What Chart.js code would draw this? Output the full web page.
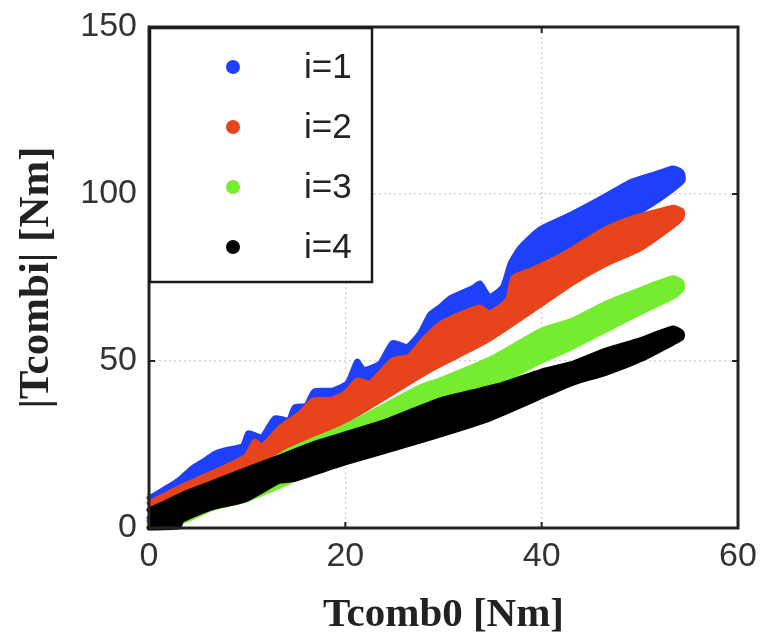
<!DOCTYPE html>
<html>
<head>
<meta charset="utf-8">
<script src="https://cdn.jsdelivr.net/npm/chart.js@4.4.1/dist/chart.umd.min.js"></script>
<style>
  html, body { margin: 0; padding: 0; background: #ffffff; }
  #wrap { width: 760px; height: 643px; }
</style>
</head>
<body>
<div id="wrap"><canvas id="c" width="760" height="643"></canvas></div>
<script>
// Combined torque |Tcombi| against base torque Tcomb0, four index values.
const seriesLabels = ['i=1', 'i=2', 'i=3', 'i=4'];
const seriesColors = ['#1f40fb', '#e8441c', '#76ec30', '#000000'];
const xTicks = [0, 20, 40, 60];
const yTicks = [0, 50, 100, 150];

// Upper and lower edges of each measured point cloud, [Tcomb0, |Tcombi|] in Nm
const i1Upper = [[0,9.0],[1.6,11.8],[3,14.4],[4.4,18.0],[5.7,20.4],[6.7,22.4],[7.7,23.4],[9.5,24.6],
  [10.1,28.5],[11.5,27.4],[12.8,33.0],[14.2,32.4],[14.8,36.2],[16,36.8],[16.8,41.0],[18.7,41.3],
  [20.2,43.5],[21.2,50.0],[21.9,47.5],[23.5,49.4],[24.8,55.5],[26.3,54.4],[27.6,58.5],[28.6,64.0],
  [29.6,66.2],[30.7,69.0],[33,72.0],[33.7,73.4],[34.7,69.5],[36,72.2],[36.8,79.3],[37.8,84.0],
  [39.8,89.5],[42.6,93.4],[45.9,98.5],[49,103.6],[51.5,106.0],[53.4,107.8],[54.3,106.5]];
const i1Lower = [[0,3.0],[20,38.0],[40,76.0],[48,91.0],[51.3,97.0],[53,100.5],[54.4,104.0]];

const i2Upper = [[0,7.5],[3,12.0],[6.4,16.5],[9.8,21.3],[10.8,26.0],[11.5,24.5],[13.3,30.0],
  [15.4,34.4],[16.7,38.3],[18.5,38.5],[20,40.5],[21.2,44.3],[22.5,43.5],[24.8,50.3],[26.5,51.5],
  [27.9,56.3],[29.6,61.0],[32,64.4],[33.7,66.2],[34.7,64.4],[36.5,68.3],[37.1,75.0],[39.1,77.5],
  [42.6,82.6],[45.9,88.6],[48,91.5],[50,93.5],[52,95.0],[53.4,96.0],[54.3,95.0]];
const i2Lower = [[0,2.0],[13.3,22.5],[20,32.0],[27.6,45.5],[29.6,48.8],[34.4,56.0],[40,67.0],
  [43.2,73.4],[46.6,79.0],[50,83.5],[53.4,90.5],[54.3,93.0]];

const i3Upper = [[0,1.0],[9.5,15.3],[14.4,23.4],[20,30.5],[27.6,42.2],[29.6,44.3],[35,51.0],
  [40,59.3],[43.2,62.3],[46.6,67.4],[50,71.3],[53.4,74.9],[54.3,73.5]];
const i3Lower = [[0,0],[3.7,2.3],[6.4,5.8],[9.8,8.3],[14.6,14.3],[20,24.0],[27,33.0],[33,40.5],
  [36,44.0],[40,50.0],[43.2,54.2],[46.6,59.3],[50,64.4],[53.4,69.2],[54.3,71.5]];

const i4Upper = [[0,5.4],[1.6,7.5],[3.7,10.5],[6.4,13.5],[9.8,17.4],[13.3,21.3],[17,25.5],
  [21.2,29.3],[24.5,32.4],[29.6,38.3],[33.7,41.3],[36,43.0],[40,47.0],[43.2,49.4],[46.6,53.3],
  [50,56.3],[53.4,59.9],[54.3,58.5]];
const i4Lower = [[0,0],[3,0.3],[3.4,2.4],[6.4,6.0],[9.8,8.4],[13.3,14.0],[14.6,14.4],[20,19.5],
  [27.6,26.0],[34.4,32.3],[40.8,40.4],[43.2,43.4],[46.6,46.4],[50,50.3],[53.4,55.4],[54.3,57.0]];

const edges = [[i1Upper, i1Lower], [i2Upper, i2Lower], [i3Upper, i3Lower], [i4Upper, i4Lower]];

// closed outline: along the upper edge, back along the lower edge
function outline(upper, lower) {
  const pts = upper.map(p => ({ x: p[0], y: p[1] }));
  for (let k = lower.length - 1; k >= 0; k--) pts.push({ x: lower[k][0], y: lower[k][1] });
  return pts;
}

const datasets = edges.map((e, i) => ({
  label: seriesLabels[i],
  data: outline(e[0], e[1]),
  borderColor: seriesColors[i],
  backgroundColor: seriesColors[i],
  borderWidth: 5,
  borderJoinStyle: 'round',
  borderCapStyle: 'round',
  pointRadius: 0,
  tension: 0.2,
  fill: 'shape',
  clip: 5,
  order: edges.length - i   // later index drawn on top
}));

const tickFont = { family: 'Liberation Sans', size: 34 };

const framePlugin = {
  id: 'frameAndLegend',
  afterDraw(chart) {
    const { ctx, chartArea: a, scales } = chart;
    ctx.save();
    // small inward tick marks
    ctx.strokeStyle = '#222';
    ctx.lineWidth = 2;
    xTicks.forEach(v => {
      const px = scales.x.getPixelForValue(v);
      ctx.beginPath(); ctx.moveTo(px, a.bottom); ctx.lineTo(px, a.bottom - 6); ctx.stroke();
      ctx.beginPath(); ctx.moveTo(px, a.top); ctx.lineTo(px, a.top + 6); ctx.stroke();
    });
    yTicks.forEach(v => {
      const py = scales.y.getPixelForValue(v);
      ctx.beginPath(); ctx.moveTo(a.left, py); ctx.lineTo(a.left + 6, py); ctx.stroke();
      ctx.beginPath(); ctx.moveTo(a.right, py); ctx.lineTo(a.right - 6, py); ctx.stroke();
    });
    // axes box
    ctx.lineWidth = 3;
    ctx.strokeStyle = '#222';
    ctx.strokeRect(a.left, a.top, a.right - a.left, a.bottom - a.top);

    // legend box in the upper-left corner
    const bx = a.left + 1, by = a.top + 1, bw = 222, bh = 254;
    ctx.fillStyle = '#ffffff';
    ctx.fillRect(bx, by, bw, bh);
    ctx.lineWidth = 2.5;
    ctx.strokeStyle = '#1a1a1a';
    ctx.strokeRect(bx, by, bw, bh);
    ctx.font = '35px "Liberation Sans"';
    ctx.textAlign = 'left';
    ctx.textBaseline = 'alphabetic';
    chart.data.datasets.forEach((ds, i) => {
      const cy = by + 39 + i * 60;
      ctx.fillStyle = ds.backgroundColor;
      ctx.beginPath(); ctx.arc(bx + 83, cy, 7, 0, Math.PI * 2); ctx.fill();
      ctx.fillStyle = '#222';
      ctx.fillText(ds.label, bx + 154, cy + 11);
    });
    ctx.restore();
  }
};

new Chart(document.getElementById('c'), {
  type: 'line',
  data: { datasets },
  options: {
    responsive: false,
    animation: false,
    devicePixelRatio: 1,
    layout: { padding: { top: 27, right: 22, bottom: 0, left: 0 } },
    plugins: { legend: { display: false }, tooltip: { enabled: false } },
    scales: {
      x: {
        type: 'linear', min: 0, max: 60,
        afterBuildTicks: s => { s.ticks = xTicks.map(v => ({ value: v })); },
        afterFit: s => { s.height = 115; s.paddingLeft = 0; s.paddingRight = 0; },
        ticks: { font: tickFont, color: '#333', padding: 8 },
        grid: { color: '#d4d4d4', lineWidth: 1.5, drawTicks: false },
        border: { display: false, dash: [2, 3] },
        title: { display: true, text: 'Tcomb0 [Nm]',
                 font: { family: 'Liberation Serif', size: 41, weight: 'bold' }, color: '#222',
                 padding: { top: 0, bottom: 3 } }
      },
      y: {
        type: 'linear', min: 0, max: 150,
        afterBuildTicks: s => { s.ticks = yTicks.map(v => ({ value: v })); },
        afterFit: s => { s.width = 149; s.paddingTop = 0; s.paddingBottom = 0; },
        ticks: { font: tickFont, color: '#333', padding: 12 },
        grid: { color: '#d4d4d4', lineWidth: 1.5, drawTicks: false },
        border: { display: false, dash: [2, 3] },
        title: { display: true, text: '|Tcombi| [Nm]',
                 font: { family: 'Liberation Serif', size: 43, weight: 'bold' }, color: '#222',
                 padding: { top: 11, bottom: 0 } }
      }
    }
  },
  plugins: [framePlugin]
});
</script>
</body>
</html>
